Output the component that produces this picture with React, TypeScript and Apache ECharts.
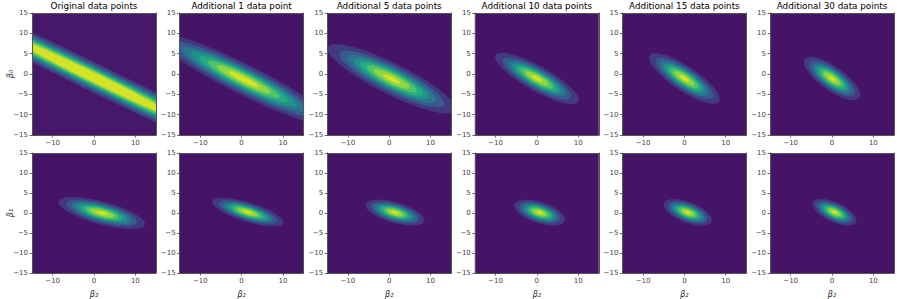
import React, { useEffect, useRef } from "react";
import * as echarts from "echarts";

// ---- texts / ticks ----
const panelTitles = [
  "Original data points",
  "Additional 1 data point",
  "Additional 5 data points",
  "Additional 10 data points",
  "Additional 15 data points",
  "Additional 30 data points",
];
const rowAxisNames = ["β₀", "β₁"];
const bottomAxisName = "β₂";
const xTicks = [-10, 0, 10];
const yTicks = [-15, -10, -5, 0, 5, 10, 15];
const axisMin = -15;
const axisMax = 15;

// ---- posterior contour shapes, one entry per panel (top row, then bottom row) ----
const centerX = [0, 0.5, 0.6, 0.05, 0, 0, 1.9, 1.5, 1.4, 0.7, 0.8, 0.6];
const centerY = [-0.85, -1.3, -1.2, -1.1, -1.1, -1.1, 0, 0.2, 0.1, 0.1, 0.15, 0.2];
const outerHalfWidth = [60, 21.6, 15.5, 10.1, 8.5, 6.8, 10.4, 8.6, 7.1, 6.1, 5.8, 5.3];
const outerHalfHeight = [29.84, 11.4, 8.5, 6.3, 6.2, 5.3, 3.95, 3.55, 3.2, 3.2, 3.3, 3.3];
const correlation = [-0.992, -0.934, -0.87, -0.84, -0.82, -0.76, -0.68, -0.72, -0.58, -0.53, -0.58, -0.62];
const layerCount = [8, 9, 9, 9, 9, 9, 9, 9, 9, 9, 9, 9];
const peakInSteps = [8.8, 8.5, 8.3, 8.3, 8.3, 8.3, 8.3, 8.3, 8.3, 8.3, 8.3, 8.3];

// ---- viridis colormap anchors ----
const viridis = [
  "#440154", "#482475", "#414487", "#355f8d", "#2a788e", "#21918c",
  "#22a884", "#44bf70", "#7ad151", "#bddf26", "#fde725",
];

function hexToRgb(h: string) {
  return [parseInt(h.slice(1, 3), 16), parseInt(h.slice(3, 5), 16), parseInt(h.slice(5, 7), 16)];
}
function cmap(t: number) {
  const x = Math.max(0, Math.min(1, t)) * (viridis.length - 1);
  const i = Math.min(viridis.length - 2, Math.floor(x));
  const f = x - i;
  const a = hexToRgb(viridis[i]);
  const b = hexToRgb(viridis[i + 1]);
  const c = a.map((v, k) => Math.round(v + (b[k] - v) * f));
  return `rgb(${c[0]},${c[1]},${c[2]})`;
}

// Sutherland–Hodgman clip of a polygon against an axis-aligned rectangle
function clipPoly(pts: number[][], x0: number, y0: number, x1: number, y1: number) {
  const edges: [(p: number[]) => boolean, (a: number[], b: number[]) => number[]][] = [
    [(p) => p[0] >= x0, (a, b) => { const t = (x0 - a[0]) / (b[0] - a[0]); return [x0, a[1] + t * (b[1] - a[1])]; }],
    [(p) => p[0] <= x1, (a, b) => { const t = (x1 - a[0]) / (b[0] - a[0]); return [x1, a[1] + t * (b[1] - a[1])]; }],
    [(p) => p[1] >= y0, (a, b) => { const t = (y0 - a[1]) / (b[1] - a[1]); return [a[0] + t * (b[0] - a[0]), y0]; }],
    [(p) => p[1] <= y1, (a, b) => { const t = (y1 - a[1]) / (b[1] - a[1]); return [a[0] + t * (b[0] - a[0]), y1]; }],
  ];
  let out = pts;
  for (const [inside, inter] of edges) {
    const inp = out;
    out = [];
    if (!inp.length) break;
    let prev = inp[inp.length - 1];
    for (const cur of inp) {
      const ci = inside(cur);
      const pi = inside(prev);
      if (ci) {
        if (!pi) out.push(inter(prev, cur));
        out.push(cur);
      } else if (pi) {
        out.push(inter(prev, cur));
      }
      prev = cur;
    }
  }
  return out;
}

// layout (pixels)
const gridLefts = [32, 179.6, 327.2, 474.8, 622.4, 770];
const gridTops = [13, 153];
const gridW = 124;
const gridH = 122;
const FONT = "DejaVu Sans";
const frameColor = "#555";
const tickColor = "#444";

const minusFmt = (v: number) => String(v).replace("-", "\u2212");

export default function App() {
  const ref = useRef<HTMLDivElement>(null);

  useEffect(() => {
    if (!ref.current) return;
    const chart = echarts.init(ref.current, undefined, { renderer: "svg" });

    const grid: any[] = [];
    const xAxis: any[] = [];
    const yAxis: any[] = [];
    const series: any[] = [];
    const title: any[] = [];

    for (let r = 0; r < 2; r++) {
      for (let c = 0; c < 6; c++) {
        const p = r * 6 + c;
        const nL = layerCount[p];
        grid.push({
          left: gridLefts[c],
          top: gridTops[r],
          width: gridW,
          height: gridH,
          show: true,
          backgroundColor: cmap(0.5 / nL),
          borderWidth: 0,
          containLabel: false,
        });
        const lineStyle = { color: frameColor, width: 1 };
        xAxis.push({
          type: "value",
          gridIndex: p,
          min: axisMin,
          max: axisMax,
          position: "bottom",
          z: 10,
          axisLine: { show: true, onZero: false, lineStyle },
          axisTick: { show: true, length: 2.5, customValues: xTicks, lineStyle: { color: tickColor, width: 0.8 } },
          axisLabel: {
            customValues: xTicks,
            fontSize: 7,
            fontFamily: FONT,
            color: tickColor,
            margin: 4,
            formatter: minusFmt,
          },
          splitLine: { show: false },
          name: r === 1 ? bottomAxisName : "",
          nameLocation: "middle",
          nameGap: 17,
          nameMoveOverlap: false,
          nameTextStyle: { fontFamily: FONT, fontSize: 8, fontStyle: "italic", color: "#222" },
        });
        xAxis.push({
          type: "value",
          gridIndex: p,
          min: axisMin,
          max: axisMax,
          position: "top",
          z: 10,
          axisLine: { show: true, onZero: false, lineStyle },
          axisTick: { show: false },
          axisLabel: { show: false },
          splitLine: { show: false },
        });
        yAxis.push({
          type: "value",
          gridIndex: p,
          min: axisMin,
          max: axisMax,
          position: "left",
          z: 10,
          axisLine: { show: true, onZero: false, lineStyle },
          axisTick: { show: true, length: 2.5, customValues: yTicks, lineStyle: { color: tickColor, width: 0.8 } },
          axisLabel: {
            customValues: yTicks,
            fontSize: 7,
            fontFamily: FONT,
            color: tickColor,
            margin: 4,
            formatter: minusFmt,
          },
          splitLine: { show: false },
          name: c === 0 ? rowAxisNames[r] : "",
          nameLocation: "middle",
          nameRotate: 90,
          nameGap: 18,
          nameMoveOverlap: false,
          nameTextStyle: { fontFamily: FONT, fontSize: 8, fontStyle: "italic", color: "#222" },
        });
        yAxis.push({
          type: "value",
          gridIndex: p,
          min: axisMin,
          max: axisMax,
          position: "right",
          z: 10,
          axisLine: { show: true, onZero: false, lineStyle },
          axisTick: { show: false },
          axisLabel: { show: false },
          splitLine: { show: false },
        });

        if (r === 0) {
          title.push({
            text: panelTitles[c],
            left: gridLefts[c] + gridW / 2,
            top: 1,
            textAlign: "center",
            padding: 0,
            textStyle: { fontFamily: FONT, fontSize: 8.8, fontWeight: "normal", color: "#000" },
          });
        }

        const cx = centerX[p];
        const cy = centerY[p];
        const W = outerHalfWidth[p];
        const H = outerHalfHeight[p];
        const rho = correlation[p];
        const P = peakInSteps[p];
        const r1 = Math.sqrt(2 * Math.log(P));
        const levels: number[][] = [];
        for (let k = 1; k < nL; k++) levels.push([k, 0]);

        series.push({
          type: "custom",
          xAxisIndex: p * 2,
          yAxisIndex: p * 2,
          clip: true,
          silent: true,
          data: levels,
          renderItem: (params: any, api: any) => {
            const k = params.dataIndex + 1;
            const rk = Math.sqrt(-2 * Math.log(k / P));
            const s = rk / r1;
            const pts: number[][] = [];
            const n = 240;
            const q = Math.sqrt(1 - rho * rho);
            for (let j = 0; j < n; j++) {
              const t = (2 * Math.PI * j) / n;
              const u = Math.cos(t);
              const v = Math.sin(t);
              const dx = W * s * u;
              const dy = s * (rho * H * u + H * q * v);
              pts.push(api.coord([cx + dx, cy + dy]));
            }
            const lo = api.coord([axisMin, axisMax]);
            const hi = api.coord([axisMax, axisMin]);
            const clipped = clipPoly(pts, lo[0], lo[1], hi[0], hi[1]);
            const col = cmap((k + 0.5) / nL);
            return {
              type: "polygon",
              shape: { points: clipped },
              style: { fill: col, stroke: col, lineWidth: 0.3 },
            };
          },
        });
      }
    }

    chart.setOption({
      animation: false,
      backgroundColor: "#ffffff",
      title,
      grid,
      xAxis,
      yAxis,
      series,
    });

    return () => chart.dispose();
  }, []);

  return (
    <div
      ref={ref}
      style={{ position: "fixed", left: 0, top: 0, width: 897, height: 299 }}
    />
  );
}
